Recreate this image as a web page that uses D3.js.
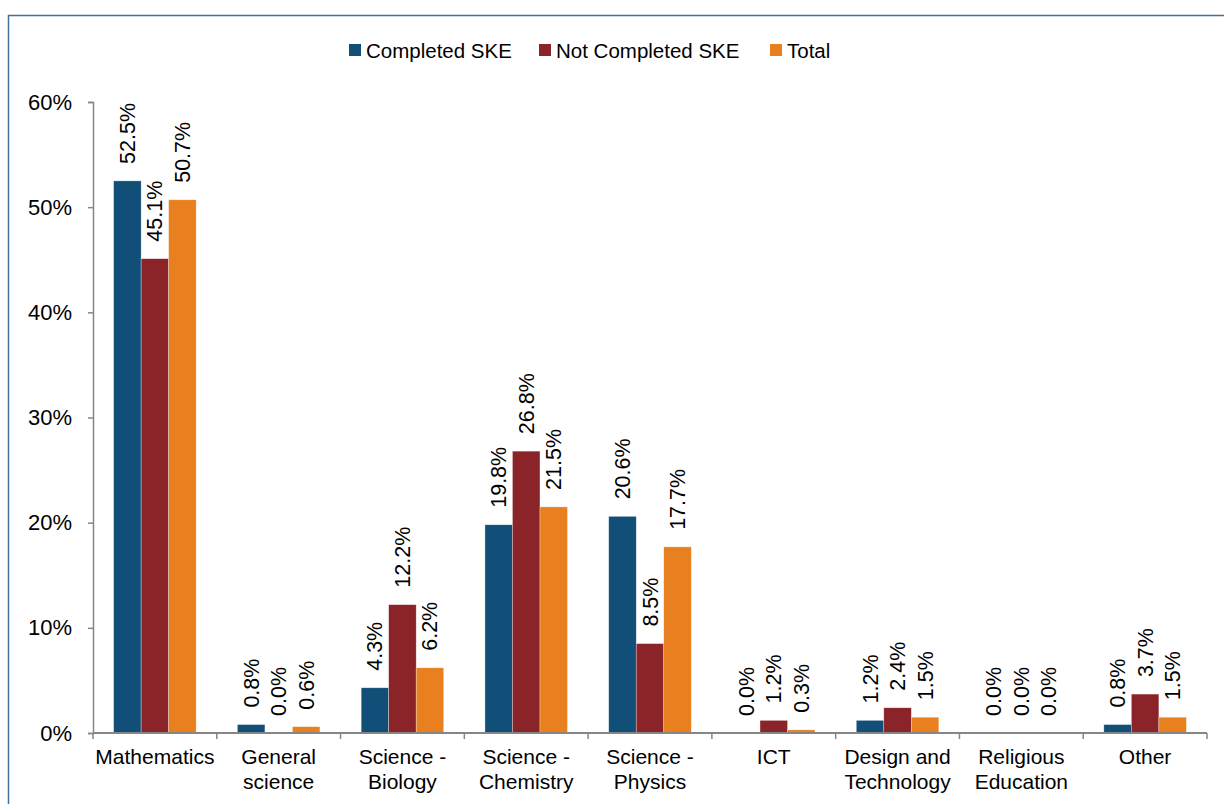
<!DOCTYPE html>
<html>
    <head>
        <script src="https://d3js.org/d3.v7.min.js"></script>
        <style>
            body { margin: 0; background: #fff; }
            text { font-family: "Liberation Sans", Arial, sans-serif; fill: #000; }
        </style>
    </head>
    <body>
        <div id="chart"></div>
        <script>
            // values
            const categories = [["Mathematics"], ["General", "science"], ["Science -", "Biology"],
                ["Science -", "Chemistry"], ["Science -", "Physics"], ["ICT"],
                ["Design and", "Technology"], ["Religious", "Education"], ["Other"]]
            const seriesNames = ["Completed SKE", "Not Completed SKE", "Total"]
            const completed = [52.5, 0.8, 4.3, 19.8, 20.6, 0.0, 1.2, 0.0, 0.8]
            const notCompleted = [45.1, 0.0, 12.2, 26.8, 8.5, 1.2, 2.4, 0.0, 3.7]
            const total = [50.7, 0.6, 6.2, 21.5, 17.7, 0.3, 1.5, 0.0, 1.5]
            const yTicks = [0, 10, 20, 30, 40, 50, 60]
            const colors = ["#114e78", "#8b2429", "#e8801f"]

            const width = 1224, height = 804
            const margin = {top: 102, right: 17, bottom: 71, left: 93}
            const series = [completed, notCompleted, total]

            const svg = d3.select("#chart").append("svg")
                .attr("width", width)
                .attr("height", height)

            // outer frame (right and bottom run off the picture)
            svg.append("rect")
                .attr("x", 8.5).attr("y", 15.5)
                .attr("width", 1240).attr("height", 820)
                .attr("fill", "none")
                .attr("stroke", "#41719c")
                .attr("stroke-width", 1.5)

            const keys = categories.map((c, i) => i)
            const x0 = d3.scaleBand(keys, [margin.left, width - margin.right])
            const x1 = d3.scaleBand(d3.range(series.length), [0, x0.bandwidth()]).paddingOuter(0.75)
            const y = d3.scaleLinear([0, 60], [height - margin.bottom, margin.top])

            // bars
            const groups = svg.append("g")
                .selectAll("g")
                .data(keys)
                .join("g")
                .attr("transform", d => `translate(${x0(d)},0)`)

            groups.selectAll("rect")
                .data(i => series.map((s, k) => ({k, v: s[i]})))
                .join("rect")
                .attr("x", d => x1(d.k))
                .attr("width", x1.bandwidth())
                .attr("y", d => y(d.v))
                .attr("height", d => y(0) - y(d.v))
                .attr("fill", d => colors[d.k])
                .attr("stroke", "#fff")
                .attr("stroke-opacity", 0.5)
                .attr("stroke-width", 0.6)

            // value labels, rotated
            groups.selectAll("text")
                .data(i => series.map((s, k) => ({k, v: s[i]})))
                .join("text")
                .attr("transform", d => `translate(${x1(d.k) + x1.bandwidth() / 2 + 7.5},${y(d.v) - 17}) rotate(-90)`)
                .attr("font-size", 21.5)
                .text(d => d.v.toFixed(1) + "%")

            // y axis
            const yAxis = svg.append("g")
                .attr("transform", `translate(${margin.left},0)`)
                .call(d3.axisLeft(y).tickValues(yTicks).tickSize(5).tickPadding(16).tickFormat(d => d + "%"))
            yAxis.selectAll("text").attr("font-size", 22).attr("font-family", null)
            yAxis.selectAll("line, path").attr("stroke", "#868686").attr("stroke-width", 1.5)

            // x axis
            const xAxis = svg.append("g")
                .attr("transform", `translate(0,${y(0)})`)
            xAxis.append("line")
                .attr("x1", margin.left).attr("x2", width - margin.right)
                .attr("stroke", "#868686").attr("stroke-width", 2)
            xAxis.selectAll(".tick")
                .data(keys.concat([keys.length]))
                .join("line")
                .attr("class", "tick")
                .attr("x1", d => d < keys.length ? x0(d) : x0(d - 1) + x0.bandwidth())
                .attr("x2", d => d < keys.length ? x0(d) : x0(d - 1) + x0.bandwidth())
                .attr("y1", 0).attr("y2", 6)
                .attr("stroke", "#868686").attr("stroke-width", 1.5)
            xAxis.selectAll(".lab")
                .data(keys)
                .join("text")
                .attr("class", "lab")
                .attr("text-anchor", "middle")
                .attr("font-size", 21)
                .attr("x", d => x0(d) + x0.bandwidth() / 2)
                .selectAll("tspan")
                .data(d => categories[d])
                .join("tspan")
                .attr("x", function () { return d3.select(this.parentNode).attr("x") })
                .attr("y", (d, i) => 31 + i * 25)
                .text(d => d)

            // legend
            const legendX = [349, 539, 770]
            const legend = svg.append("g")
                .selectAll("g")
                .data(seriesNames)
                .join("g")
                .attr("transform", (d, i) => `translate(${legendX[i]},44)`)
            legend.append("rect")
                .attr("width", 12).attr("height", 12)
                .attr("fill", (d, i) => colors[i])
            legend.append("text")
                .attr("x", 17).attr("y", 13.5)
                .attr("font-size", 20.5)
                .text(d => d)
        </script>
    </body>
</html>
